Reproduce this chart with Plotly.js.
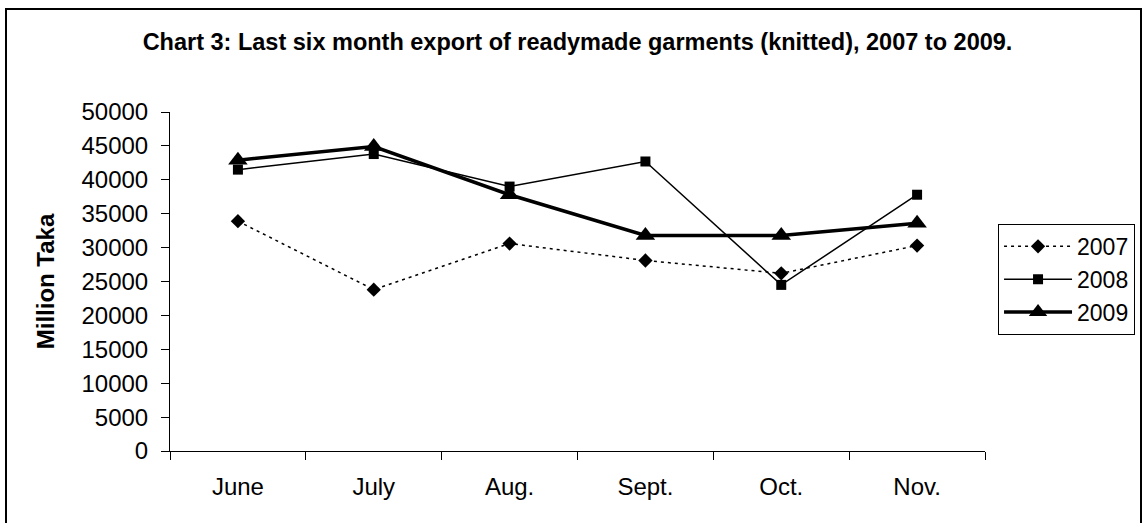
<!DOCTYPE html>
<html>
<head>
<meta charset="utf-8">
<script src="https://cdn.plot.ly/plotly-3.0.1.min.js"></script>
<style>
html,body{margin:0;padding:0;background:#fff;}
#chart{width:1146px;height:523px;}
</style>
</head>
<body>
<div id="chart"></div>
<script>
const months = ["June", "July", "Aug.", "Sept.", "Oct.", "Nov."];
const y2007 = [33900, 23800, 30600, 28100, 26200, 30300];
const y2008 = [41500, 43800, 39000, 42700, 24500, 37800];
const y2009 = [42900, 44900, 37800, 31800, 31800, 33600];

const traces = [
  {x: months, y: y2007, name: "2007", type: "scatter", mode: "lines+markers",
   line: {color: "#000", width: 1.5, dash: "3px,4px"},
   marker: {symbol: "diamond", size: 11, color: "#000"}},
  {x: months, y: y2008, name: "2008", type: "scatter", mode: "lines+markers",
   line: {color: "#000", width: 1.5},
   marker: {symbol: "square", size: 10, color: "#000"}},
  {x: months, y: y2009, name: "2009", type: "scatter", mode: "lines+markers",
   line: {color: "#000", width: 3.5},
   marker: {symbol: "triangle-up", size: 17, color: "#000"}}
];

const layout = {
  width: 1146, height: 523,
  paper_bgcolor: "#fff", plot_bgcolor: "#fff",
  margin: {l: 170, r: 161, t: 112, b: 72, autoexpand: false},
  font: {family: "Liberation Sans, Arial, sans-serif", color: "#000"},
  title: {text: "<b>Chart 3: Last six month export of readymade garments (knitted), 2007 to 2009.</b>",
          font: {size: 23.5, family: "Liberation Sans, Arial, sans-serif", color: "#000"},
          x: 0.5, xref: "paper", y: 1 - 41.5/523, yref: "container", yanchor: "middle"},
  xaxis: {type: "category", range: [-0.5, 5.5], showgrid: false, zeroline: false,
          showline: true, linecolor: "#000", linewidth: 1, automargin: false,
          ticks: "outside", ticklen: 8, tickcolor: "#000", tickson: "boundaries",
          ticklabelstandoff: 14,
          tickfont: {size: 24}},
  yaxis: {range: [0, 50000], dtick: 5000, tick0: 0, tickformat: "d",
          showgrid: false, zeroline: false, automargin: false,
          showline: true, linecolor: "#000", linewidth: 1,
          ticks: "outside", ticklen: 8, tickcolor: "#000",
          ticklabelstandoff: 8,
          tickfont: {size: 24},
          title: {text: "<b>Million Taka</b>", font: {size: 24}, standoff: 20}},
  showlegend: true,
  legend: {x: 1.016, xanchor: "left", y: 0.67, yanchor: "top",
           bordercolor: "#000", borderwidth: 1, bgcolor: "#fff",
           font: {size: 23}, tracegroupgap: 0, itemwidth: 68},
  shapes: [
    {type: "rect", xref: "paper", yref: "paper",
     x0: (6 - 170)/815, x1: (1141 - 170)/815, y0: -0.3, y1: (451 - 9)/339,
     line: {color: "#000", width: 2}, fillcolor: "rgba(0,0,0,0)", layer: "below"}
  ]
};

Plotly.newPlot("chart", traces, layout, {displayModeBar: false, staticPlot: true});
</script>
</body>
</html>
